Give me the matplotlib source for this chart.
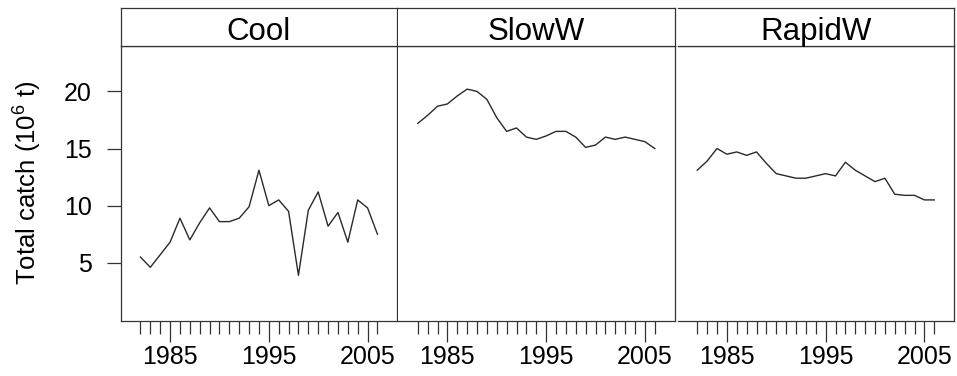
import matplotlib
matplotlib.use("Agg")
import matplotlib.pyplot as plt
from matplotlib.ticker import FixedLocator, NullFormatter

plt.rcParams.update({
    "font.family": ["Liberation Sans", "DejaVu Sans"],
    "mathtext.fontset": "custom",
    "mathtext.rm": "Liberation Sans",
    "mathtext.it": "Liberation Sans:italic",
})

years = list(range(1982, 2007))
panels = ["Cool", "SlowW", "RapidW"]

cool = [5.5, 4.6, 5.7, 6.8, 8.9, 7.0, 8.5, 9.8, 8.6, 8.6, 8.9, 9.9, 13.1,
        10.0, 10.5, 9.5, 3.9, 9.6, 11.2, 8.2, 9.4, 6.8, 10.5, 9.8, 7.5]
sloww = [17.2, 17.9, 18.7, 18.9, 19.6, 20.2, 20.0, 19.3, 17.7, 16.5, 16.8,
         16.0, 15.8, 16.1, 16.5, 16.5, 16.0, 15.1, 15.3, 16.0, 15.8, 16.0,
         15.8, 15.6, 15.0]
rapidw = [13.1, 13.9, 15.0, 14.5, 14.7, 14.4, 14.7, 13.7, 12.8, 12.6, 12.4,
          12.4, 12.6, 12.8, 12.6, 13.8, 13.1, 12.6, 12.1, 12.4, 11.0, 10.9,
          10.9, 10.5, 10.5]
series = [cool, sloww, rapidw]

major_years = [1985, 1995, 2005]
y_ticks = [5, 10, 15, 20]

W, H = 957, 376
fig = plt.figure(figsize=(W / 100, H / 100), dpi=100)

edge = "#333333"
x_left = [120.7, 398.0, 677.5]
pw = 276.5
p_bot, p_top, s_top = 321.0, 45.7, 7.5

for i, (name, vals) in enumerate(zip(panels, series)):
    x0 = x_left[i] / W
    ax = fig.add_axes([x0, 1 - p_bot / H, pw / W, (p_bot - p_top) / H])
    ax.plot(years, vals, color="#2a2a2a", lw=1.0)
    ax.set_xlim(1980, 2008)
    ax.set_ylim(-0.1, 24.0)
    for sp in ax.spines.values():
        sp.set_color(edge)
        sp.set_linewidth(0.9)
    if i > 0:
        ax.spines["left"].set_visible(False)

    ax.xaxis.set_major_locator(FixedLocator(major_years))
    ax.xaxis.set_minor_locator(FixedLocator([y for y in years if y not in major_years]))
    ax.xaxis.set_minor_formatter(NullFormatter())
    ax.tick_params(axis="x", which="major", direction="out", length=15,
                   width=0.9, color=edge, labelsize=18, pad=2)
    ax.tick_params(axis="x", which="minor", direction="out", length=9.5,
                   width=0.9, color=edge)

    if i == 0:
        ax.set_yticks(y_ticks)
        ax.tick_params(axis="y", direction="out", length=10, width=0.9,
                       color=edge, labelsize=18, pad=11)
    else:
        ax.set_yticks([])

    # strip with panel name
    sax = fig.add_axes([x0, 1 - p_top / H, pw / W, (p_top - s_top) / H])
    sax.set_xticks([])
    sax.set_yticks([])
    for sp in sax.spines.values():
        sp.set_color(edge)
        sp.set_linewidth(0.9)
    if i > 0:
        sax.spines["left"].set_visible(False)
    sax.text(0.5, 0.37, name, ha="center", va="center", fontsize=22.5,
             transform=sax.transAxes)

fig.text(28 / W, 0.515, r"Total catch (10$^{6}$ t)", rotation=90,
         ha="center", va="center", fontsize=18.5)

fig.savefig("out.png", dpi=100)
